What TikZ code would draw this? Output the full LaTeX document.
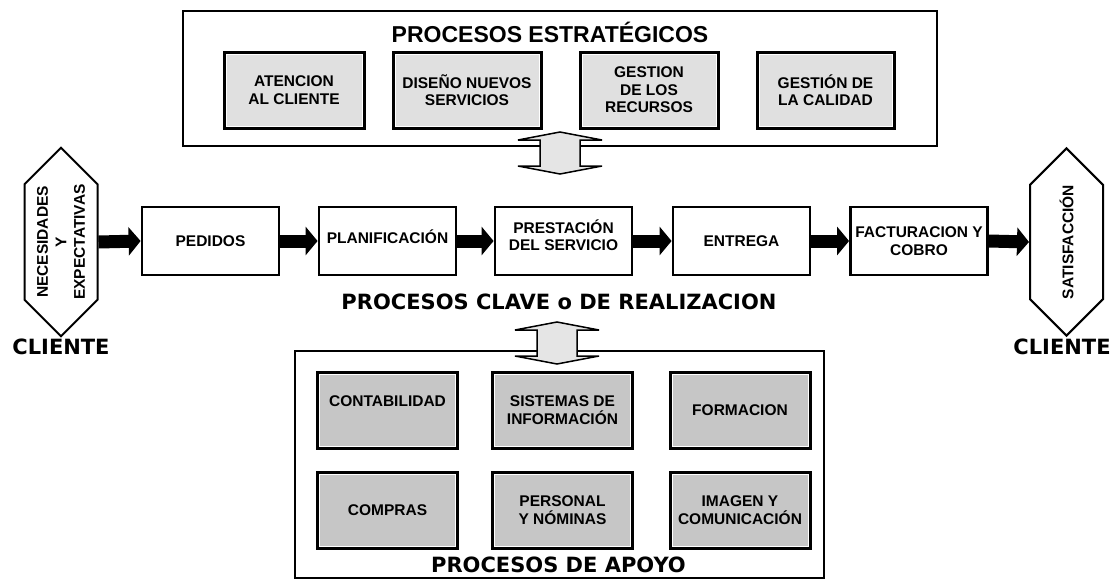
\documentclass[tikz,border=0pt]{standalone}
\usepackage{fontspec}
\setmainfont{Liberation Sans}
\newfontfamily\widefont{DejaVu Sans}
\usetikzlibrary{arrows.meta,shapes.symbols}

\tikzset{
	bigframe/.style={draw, line width=2.5pt, inner sep=0pt, outer sep=0pt},
	boxtext/.style={align=center, inner sep=1pt, font=\bfseries\fontsize{15.5}{17.5}\selectfont},
	proc/.style={boxtext, draw, line width=2.8pt, fill=white,
		minimum width=137pt, minimum height=68pt},
	greybox/.style={boxtext, draw, line width=3pt,
		minimum width=140pt, minimum height=76pt,
		path picture={\draw[white, line width=5pt]
			(path picture bounding box.south west) rectangle
			(path picture bounding box.north east);}},
	strat/.style={greybox, fill=gray!24},
	apoyo/.style={greybox, fill=gray!45},
	client/.style={draw, line width=2pt, fill=white, signal,
		signal to=east and west, signal pointer angle=90, rotate=90,
		minimum width=181pt, minimum height=73pt, inner sep=0pt,
		align=center, font=\bfseries\fontsize{15.5}{18.5}\selectfont},
	flow/.style={line width=13pt, -{Triangle[length=12pt, width=28pt]}},
	heading/.style={font=\widefont\bfseries\fontsize{21}{21}\selectfont},
	updown/.pic={
		\filldraw[fill=gray!20, draw=black, line width=1.5pt, line join=miter]
			(0,-21) -- (42,-13) -- (20,-13) -- (20,13) -- (42,13) -- (0,21)
			-- (-42,13) -- (-20,13) -- (-20,-13) -- (-42,-13) -- cycle;
	},
}

\begin{document}
\begin{tikzpicture}[x=1pt, y=-1pt]

% canvas %{{{2

	\useasboundingbox (0,0) rectangle (1114,579);

% frames %{{{2

	% ---- strategic and support frames

	\node[bigframe, minimum width=754pt, minimum height=135pt] (estrat) at (560,78.5) {};
	\node[bigframe, minimum width=529pt, minimum height=227pt] (apoyo) at (559.5,464.5) {};

% strategic processes %{{{2

	\node[font=\bfseries\fontsize{23}{23}\selectfont] (tEstrat) at (550,32) {PROCESOS ESTRATÉGICOS};

	\node[strat] (atencion) at (294,90) {ATENCION\\AL CLIENTE};
	\node[strat, minimum width=148pt] (diseno) at (467,90) {DISEÑO NUEVOS\\SERVICIOS};
	\node[strat, minimum width=138pt] (recursos) at (649,90) {GESTION\\DE LOS\\RECURSOS};
	\node[strat, minimum width=137pt] (calidad) at (825.5,90) {GESTIÓN DE\\LA CALIDAD};

% customers %{{{2

	\node[client] (hexL) at (61,242) {NECESIDADES\\Y\\EXPECTATIVAS};
	\node[client] (hexR) at (1066.5,242) {SATISFACCIÓN};

	\node[heading] (cliL) at (61,347) {CLIENTE};
	\node[heading] (cliR) at (1062,347) {CLIENTE};

% key processes %{{{2

	\node[proc] (pedidos) at (210.5,241) {PEDIDOS};
	\node[proc, text depth=8pt] (planif) at (387.5,241) {PLANIFICACIÓN};
	\node[proc, text depth=12pt] (prestacion) at (563.5,241) {PRESTACIÓN\\DEL SERVICIO};
	\node[proc] (entrega) at (741.5,241) {ENTREGA};
	\node[proc] (factura) at (919,241) {FACTURACION Y\\COBRO};

	% ---- flow arrows

	\draw[flow] (hexL.south) -- (pedidos.west);
	\draw[flow] (pedidos) -- (planif);
	\draw[flow] (planif) -- (prestacion);
	\draw[flow] (prestacion) -- (entrega);
	\draw[flow] (entrega) -- (factura);
	\draw[flow] (factura.east) -- (hexR.north);

	\node[heading] (tClave) at (559,302) {PROCESOS CLAVE o DE REALIZACION};

% support processes %{{{2

	\node[apoyo, text depth=18pt] (conta) at (387.5,410) {CONTABILIDAD};
	\node[apoyo] (sistemas) at (562.5,410) {SISTEMAS DE\\INFORMACIÓN};
	\node[apoyo] (formacion) at (740,410) {FORMACION};
	\node[apoyo] (compras) at (387.5,510) {COMPRAS};
	\node[apoyo] (personal) at (562.5,510) {PERSONAL\\Y NÓMINAS};
	\node[apoyo] (imagen) at (740,510) {IMAGEN Y\\COMUNICACIÓN};

	\node[heading] (tApoyo) at (558.5,565) {PROCESOS DE APOYO};

% double arrows %{{{2

	\pic at (560,153) {updown};
	\pic at (557,343) {updown};

% closing %{{{2

\end{tikzpicture}
\end{document}
